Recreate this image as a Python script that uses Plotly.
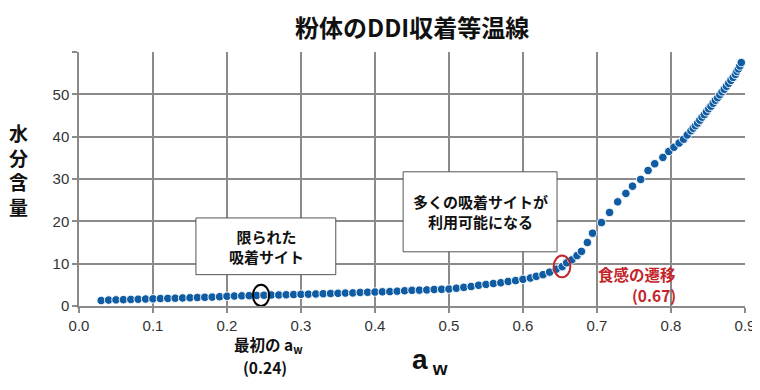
import plotly.graph_objects as go

# ---- data ----
aw = [0.03, 0.04, 0.05, 0.06, 0.07, 0.08, 0.09, 0.10, 0.11, 0.12,
      0.13, 0.14, 0.15, 0.16, 0.17, 0.18, 0.19, 0.20, 0.21, 0.22,
      0.23, 0.24, 0.25, 0.26, 0.27, 0.28, 0.29, 0.30, 0.31, 0.32,
      0.33, 0.34, 0.35, 0.36, 0.37, 0.38, 0.39, 0.40, 0.41, 0.42,
      0.43, 0.44, 0.45, 0.46, 0.47, 0.48, 0.49, 0.50, 0.51, 0.52,
      0.53, 0.54, 0.55, 0.56, 0.57, 0.58, 0.59, 0.60, 0.61, 0.618,
      0.627, 0.636, 0.645, 0.653, 0.659, 0.666, 0.673, 0.679, 0.687, 0.694,
      0.706, 0.717, 0.728, 0.739, 0.748, 0.759, 0.769, 0.778, 0.789, 0.797,
      0.804, 0.811, 0.817, 0.822, 0.827, 0.830, 0.833, 0.836, 0.839, 0.842,
      0.845, 0.848, 0.851, 0.854, 0.857, 0.860, 0.863, 0.866, 0.869, 0.872,
      0.875, 0.878, 0.881, 0.884, 0.887, 0.889, 0.891, 0.893, 0.895]
moisture = [1.3, 1.4, 1.45, 1.5, 1.55, 1.6, 1.65, 1.7, 1.75, 1.8,
            1.85, 1.9, 1.95, 2.0, 2.05, 2.1, 2.2, 2.3, 2.35, 2.4,
            2.45, 2.5, 2.55, 2.6, 2.6, 2.65, 2.7, 2.75, 2.8, 2.85,
            2.9, 2.95, 3.0, 3.05, 3.1, 3.2, 3.25, 3.3, 3.35, 3.4,
            3.5, 3.6, 3.7, 3.75, 3.8, 3.9, 3.95, 4.0, 4.2, 4.4,
            4.6, 4.9, 5.1, 5.3, 5.5, 5.8, 6.0, 6.3, 6.6, 7.0,
            7.4, 8.0, 8.7, 9.3, 10.2, 10.9, 11.9, 12.9, 15.0, 17.2,
            19.7, 22.1, 24.6, 26.6, 28.3, 29.9, 32.0, 33.6, 35.1, 36.5,
            37.5, 38.5, 39.4, 40.4, 41.4, 42.0, 42.6, 43.2, 43.9, 44.6,
            45.2, 45.9, 46.6, 47.2, 47.9, 48.6, 49.2, 49.9, 50.6, 51.2,
            51.9, 52.6, 53.3, 54.0, 54.7, 55.4, 56.0, 56.7, 57.5]

x_ticks = [0.0, 0.1, 0.2, 0.3, 0.4, 0.5, 0.6, 0.7, 0.8, 0.9]
x_tick_labels = ["0.0", "0.1", "0.2", "0.3", "0.4", "0.5", "0.6", "0.7", "0.8", "0.9"]
y_ticks = [0, 10, 20, 30, 40, 50, 60]
y_tick_labels = ["0", "10", "20", "30", "40", "50", ""]

title_text = "粉体のDDI収着等温線"
y_title = "水<br>分<br>含<br>量"
box1_text = "限られた<br>吸着サイト"
box2_text = "多くの吸着サイトが<br>利用可能になる"
red_line1 = "食感の遷移"
red_line2 = "(0.67)"
first_line1 = "最初の a<sub>w</sub>"
first_line2 = "(0.24)"
x_title = "a<sub><span style='font-size:19px'> w</span></sub>"

CJK = "Noto Sans CJK JP"
BLUE = "#105ca2"
RED = "#c3252b"
GRID = "#8a8a8a"

# page is rendered with an 8px body margin; plot area in page pixels:
PL, PR, PT, PB = 79, 745, 52, 306.5
def px(x):
    return (x - PL) / (PR - PL)
def py(y):
    return (PB - y) / (PB - PT)

fig = go.Figure()
fig.add_trace(go.Scatter(
    x=aw, y=moisture, mode="markers",
    marker=dict(size=8.5, color=BLUE, line=dict(color="rgba(255,255,255,0.9)", width=1)),
    showlegend=False, cliponaxis=False,
))

# boxes
fig.add_shape(type="rect", x0=0.158, x1=0.347, y0=7.4, y1=20.8,
              line=dict(color="#555555", width=1), fillcolor="white", layer="above")
fig.add_shape(type="rect", x0=0.438, x1=0.646, y0=12.8, y1=31.7,
              line=dict(color="#555555", width=1), fillcolor="white", layer="above")
# circles
fig.add_shape(type="circle", x0=0.235, x1=0.257, y0=0.0, y1=5.0,
              line=dict(color="black", width=2), layer="above")
fig.add_shape(type="circle", x0=0.6415, x1=0.664, y0=6.8, y1=11.9,
              line=dict(color=RED, width=2), layer="above")

def label(xp, yp, text, size, color="#111", family=CJK, xanchor="center", align="center", pad=1):
    fig.add_annotation(x=px(xp), y=py(yp), xref="paper", yref="paper", xanchor=xanchor,
                       yanchor="middle", text=f"<b>{text}</b>", showarrow=False, borderpad=pad,
                       font=dict(family=family, size=size, color=color), align=align)

fig.add_annotation(x=0.2527, y=14.1, text=f"<b>{box1_text}</b>", showarrow=False,
                   font=dict(family=CJK, size=15, color="#111"), align="center")
fig.add_annotation(x=0.5419, y=22.3, text=f"<b>{box2_text}</b>", showarrow=False,
                   font=dict(family=CJK, size=15, color="#111"), align="center")
label(677, 274, red_line1, 15.5, color=RED, xanchor="right", pad=0)
label(677, 295, red_line2, 15.5, color=RED, xanchor="right", pad=0)
label(268, 346, first_line1, 15.5, pad=0)
label(265, 368, first_line2, 15.5, pad=0)
label(430, 362, x_title, 28, family="Liberation Sans")
label(18, 170, y_title, 19)
label(412, 26, title_text, 24)

fig.update_layout(
    width=752, height=382,
    margin=dict(l=PL - 8, r=760 - PR, t=PT - 8, b=390 - PB, autoexpand=False),
    paper_bgcolor="white", plot_bgcolor="white",
    xaxis=dict(range=[0, 0.9], tickmode="array", tickvals=x_ticks, ticktext=x_tick_labels,
               showgrid=True, gridcolor=GRID, gridwidth=1.5, zeroline=False,
               showline=True, linecolor=GRID, linewidth=1.5,
               ticks="outside", ticklen=5, tickcolor=GRID, tickwidth=1.5,
               tickfont=dict(family="Liberation Sans", size=15, color="#333")),
    yaxis=dict(range=[0, 60], tickmode="array", tickvals=y_ticks, ticktext=y_tick_labels,
               showgrid=True, gridcolor=GRID, gridwidth=1.5, zeroline=False,
               showline=True, linecolor=GRID, linewidth=1.5,
               ticks="outside", ticklen=5, tickcolor=GRID, tickwidth=1.5,
               tickfont=dict(family="Liberation Sans", size=15, color="#333")),
)

fig.write_html("out.html")
